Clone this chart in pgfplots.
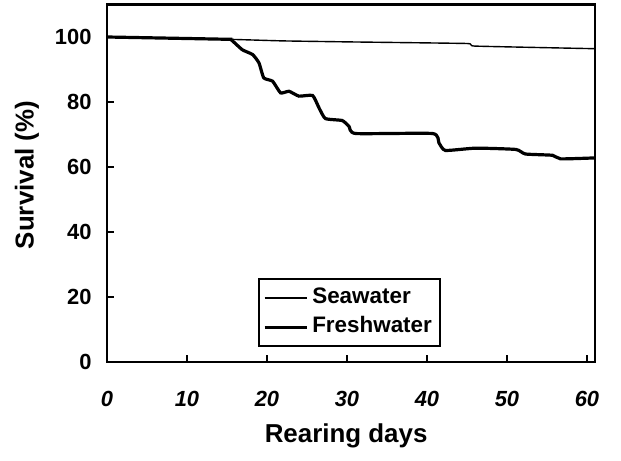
\documentclass[border=0pt]{standalone}
\usepackage{fontspec}
\setmainfont{Liberation Sans}
\usepackage{pgfplots}
\pgfplotsset{compat=1.18}

\pgfplotstableread{
day surv
0    100
15   99.3
22   98.8
30   98.5
45   98.0
46   97.2
61   96.4
}\seawater

\pgfplotstableread{
day surv
0     100
15    99.3
15.5  99.2
16.9  96.1
18.2  94.6
19.0  92.0
19.6  87.4
20.7  86.4
21.7  82.8
22.75 83.3
24.0  81.8
25.7  82.0
26.5  78.2
27.3  74.9
29.4  74.3
30.25 72.5
31.1  70.3
40.7  70.3
41.5  67.4
42.3  65.1
46.1  65.8
51.1  65.4
52.3  64.0
55.7  63.6
56.7  62.5
61    62.8
}\freshwater

\begin{document}
\begin{tikzpicture}
\begin{axis}[
  scale only axis,
  width=488bp, height=357.5bp,
  xmin=0, xmax=61, ymin=0, ymax=110,
  xtick={0,10,...,60}, ytick={0,20,...,100},
  xtick pos=left, ytick pos=left,
  tick align=inside,
  major tick length=7bp,
  tick style={black, line width=2bp},
  axis line style={black, line width=2.6bp},
  /pgf/number format/assume math mode=true,
  xticklabel style={font=\fontsize{22}{24}\selectfont\bfseries\itshape},
  yticklabel style={font=\fontsize{22}{24}\selectfont\bfseries},
  xticklabel shift=26bp,
  yticklabel shift=12bp,
  xlabel={Rearing days},
  ylabel={Survival (\%)},
  xlabel style={font=\fontsize{26}{28}\selectfont\bfseries,
    at={(axis description cs:0.49,-0.224)}, anchor=base},
  ylabel style={font=\fontsize{26}{28}\selectfont\bfseries,
    at={(axis description cs:-0.164,0.523)}, anchor=center, rotate=0},
  legend style={at={(axis cs:18.9,4.6)}, anchor=south west,
    draw=black, line width=1.8bp,
    font=\fontsize{22.5}{24}\selectfont\bfseries,
    inner xsep=4bp, inner ysep=4bp, row sep=-1bp,
    nodes={inner sep=4bp, text height=16bp, text depth=6bp},
    cells={anchor=west}},
  legend image code/.code={
    \path (0bp,0bp) -- (15bp,0bp);
    \draw[#1] (13bp,0bp) -- (42bp,0bp);},
]
\addplot[black, line width=1.4bp, smooth, tension=0.2] table[x=day,y=surv] {\seawater};
\addlegendentry{Seawater}
\addplot[black, line width=3.2bp, smooth, tension=0.3] table[x=day,y=surv] {\freshwater};
\addlegendentry{Freshwater}
\end{axis}
\path (current axis.south west) ++(-107bp,-99bp) rectangle ++(621bp,461bp);
\end{tikzpicture}
\end{document}
